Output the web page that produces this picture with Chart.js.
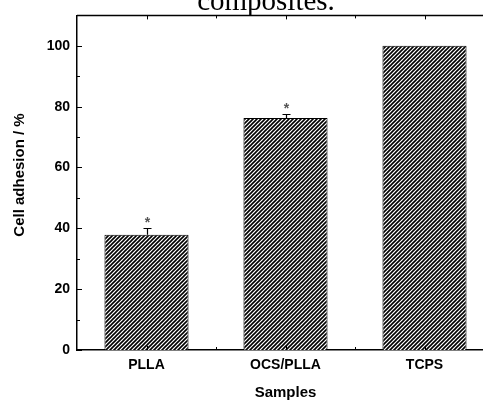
<!DOCTYPE html>
<html>
<head>
<meta charset="utf-8">
<script src="https://cdn.jsdelivr.net/npm/chart.js@4/dist/chart.umd.min.js"></script>
<style>
  html, body { margin: 0; padding: 0; overflow: hidden; background: #fff; }
  #wrap { position: relative; width: 510px; height: 400px; }
</style>
</head>
<body>
<div id="wrap"><canvas id="c" width="510" height="400"></canvas></div>
<script>
const titleText = 'composites.';
const categories = ['PLLA', 'OCS/PLLA', 'TCPS'];
const adhesion = [37.9, 76.3, 100];
const errorUp = [2.2, 1.4, 0];
const marks = ['*', '*', ''];
const xTitle = 'Samples';
const yTitle = 'Cell adhesion / %';

function hatch() {
  const s = 4;
  const c = document.createElement('canvas');
  c.width = s; c.height = s;
  const g = c.getContext('2d');
  g.fillStyle = '#fff';
  g.fillRect(0, 0, s, s);
  g.strokeStyle = '#000';
  g.lineWidth = 1.6;
  g.beginPath();
  g.moveTo(-1, s + 1); g.lineTo(s + 1, -1);
  g.moveTo(-1, 1); g.lineTo(1, -1);
  g.moveTo(s - 1, s + 1); g.lineTo(s + 1, s - 1);
  g.stroke();
  return g.createPattern(c, 'repeat');
}

const decor = {
  id: 'decor',
  afterDraw(chart) {
    const ctx = chart.ctx;
    const a = chart.chartArea;
    const xs = chart.scales.x, ys = chart.scales.y;
    ctx.save();
    // title
    ctx.fillStyle = '#000';
    ctx.font = '29px "Liberation Serif", "Times New Roman", serif';
    ctx.textAlign = 'center';
    ctx.textBaseline = 'alphabetic';
    ctx.fillText(titleText, 266, 10);
    // y axis title
    ctx.save();
    ctx.translate(20, 175);
    ctx.rotate(-Math.PI / 2);
    ctx.font = 'bold 15px "Liberation Sans", Arial, sans-serif';
    ctx.textAlign = 'center';
    ctx.textBaseline = 'middle';
    ctx.fillText(yTitle, 0, 0);
    ctx.restore();
    // top frame line
    ctx.strokeStyle = '#000';
    ctx.lineWidth = 1.5;
    ctx.beginPath();
    ctx.moveTo(a.left, a.top); ctx.lineTo(a.right + 20, a.top);
    ctx.stroke();
    // y ticks inward
    ctx.lineWidth = 1;
    for (let v = 0; v <= 100; v += 10) {
      const y = Math.round(ys.getPixelForValue(v)) + 0.5;
      const len = v % 20 === 0 ? 5 : 3;
      ctx.beginPath(); ctx.moveTo(a.left, y); ctx.lineTo(a.left + len, y); ctx.stroke();
    }
    // x ticks (centers and midpoints), bottom & top
    for (let i = 0; i <= categories.length * 2; i++) {
      const x = Math.round(xs.getPixelForValue(i / 2 - 0.5)) + 0.5;
      const len = i % 2 === 1 ? 4 : 3;
      if (x <= a.left + 1) continue;
      ctx.beginPath(); ctx.moveTo(x, a.bottom); ctx.lineTo(x, a.bottom - len); ctx.stroke();
      ctx.beginPath(); ctx.moveTo(x, a.top); ctx.lineTo(x, a.top + len); ctx.stroke();
    }
    // error bars and significance marks
    ctx.lineWidth = 1.2;
    ctx.strokeStyle = '#000';
    for (let i = 0; i < adhesion.length; i++) {
      if (!errorUp[i]) continue;
      const x = Math.round(xs.getPixelForValue(i)) + 0.5;
      const y0 = ys.getPixelForValue(adhesion[i]);
      const y1 = Math.round(ys.getPixelForValue(adhesion[i] + errorUp[i])) + 0.5;
      ctx.beginPath();
      ctx.moveTo(x, y0); ctx.lineTo(x, y1);
      ctx.moveTo(x - 4, y1); ctx.lineTo(x + 4, y1);
      ctx.stroke();
      if (marks[i]) {
        ctx.fillStyle = '#555';
        ctx.font = 'bold 14px "Liberation Sans", Arial, sans-serif';
        ctx.textAlign = 'center';
        ctx.textBaseline = 'middle';
        ctx.fillText(marks[i], x, y1 - 5);
      }
    }
    ctx.restore();
  }
};

const tickFont = { family: '"Liberation Sans", Arial, sans-serif', size: 14, weight: 'bold' };
const titleFont = { family: '"Liberation Sans", Arial, sans-serif', size: 15, weight: 'bold', lineHeight: 1 };

new Chart(document.getElementById('c'), {
  type: 'bar',
  data: {
    labels: categories,
    datasets: [{
      data: adhesion,
      backgroundColor: hatch(),
      borderColor: '#000',
      borderWidth: 1,
      borderSkipped: 'bottom',
      barPercentage: 0.605,
      categoryPercentage: 1
    }]
  },
  options: {
    responsive: false,
    animation: false,
    events: [],
    layout: { padding: { top: 15, right: 16, left: 0, bottom: 0 } },
    plugins: { legend: { display: false }, tooltip: { enabled: false } },
    scales: {
      x: {
        offset: true,
        grid: { display: false, drawTicks: false },
        border: { display: true, color: '#000', width: 1.5 },
        ticks: { color: '#000', font: tickFont, padding: 7, maxRotation: 0 },
        title: { display: true, text: xTitle, color: '#000', font: titleFont, padding: { top: 0, bottom: 0 } },
        afterFit(s) { s.height = 50; }
      },
      y: {
        min: 0, max: 110,
        grid: { display: false, drawTicks: false },
        border: { display: true, color: '#000', width: 1.5 },
        ticks: {
          stepSize: 20, color: '#000', font: tickFont, padding: 7,
          callback: v => (v % 20 === 0 && v <= 100) ? v : ''
        },
        title: { display: false },
        afterFit(s) { s.width = 77; }
      }
    }
  },
  plugins: [decor]
});
</script>
</body>
</html>
